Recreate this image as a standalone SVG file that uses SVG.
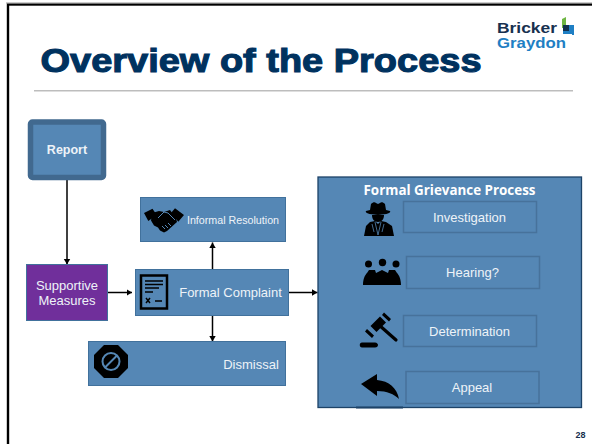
<svg xmlns="http://www.w3.org/2000/svg" width="592" height="444" viewBox="0 0 592 444">
<defs>
<marker id="arr" markerUnits="userSpaceOnUse" markerWidth="7" markerHeight="8" refX="5.500" refY="4" orient="auto"><path d="M0 0.800L5.500 4L0 7.200z" fill="#000"/></marker>
</defs>
<style>
.box{fill:#5587b5;stroke:#41719c;stroke-width:1}
.inner{fill:#5587b5;stroke:#47729b;stroke-width:1.5}
text{font-family:"Liberation Sans",Arial,sans-serif;fill:#eef3f8;text-anchor:middle}
.t{font-size:13px}
.c{stroke:#000;stroke-width:1.500;fill:none;marker-end:url(#arr)}
.icon{fill:#000}
</style>
<rect width="592" height="444" fill="#fff"/>
<rect x="8" y="4.500" width="600" height="460" fill="none" stroke="#000" stroke-width="2.400"/>
<rect x="6" y="2.500" width="586" height="1" fill="#999"/>
<text x="261" y="72" textLength="441" lengthAdjust="spacingAndGlyphs" style="font-weight:700;font-size:33px;fill:#00325f;stroke:#00325f;stroke-width:1.100px">Overview of the Process</text>
<rect x="34" y="90" width="539" height="1.500" fill="#bdbdbd"/>
<g id="logo">
<text x="497" y="33" textLength="60" lengthAdjust="spacingAndGlyphs" style="font-weight:700;font-size:15.500px;fill:#17304f;text-anchor:start">Bricker</text>
<text x="497" y="48" textLength="69" lengthAdjust="spacingAndGlyphs" style="font-weight:700;font-size:15.500px;fill:#1f7fc4;text-anchor:start">Graydon</text>
<path d="M562 19l4-2v8h6v3h-10z" fill="#6fb644"/>
<path d="M563 25h6v6h-6z" fill="#12304f"/>
<path d="M569 25h5v10l-2 0v-1h-9v-3h6z" fill="#1f7fc4"/>
</g>
<g id="connectors">
<path class="c" d="M67 177V264.500"/>
<path class="c" d="M108 292.500H132"/>
<path class="c" d="M212.500 269V242.500"/>
<path class="c" d="M212.500 316V341.500"/>
<path class="c" d="M289 292.500H317.500"/>
<path class="c" d="M470 233.500V255.500"/>
<path class="c" d="M472.500 292V314"/>
<path class="c" d="M470 350V372"/>
</g>
<g id="report"><rect x="30.500" y="122" width="73" height="55.500" rx="2" fill="#5587b5" stroke="#41698f" stroke-width="5.500"/><text x="67" y="154" style="font-weight:700;font-size:12.500px">Report</text></g>
<g id="informal"><rect class="box" x="140.500" y="197.500" width="145" height="44"/>
<path class="icon" d="M144 213l8.500-4.300 4.200 6.300-8.400 6zM175 208.300l9 6.700-5.700 6.700-7.300-8.700z"/>
<path class="icon" d="M152 213l7-2 5 1 6-2 6 8 1 4-10 9-3 1.500-4-2-2-3-4-2-3-5z"/>
<path d="M158 218l6-6 4 1 7 7M165 225l3 3M162 226l3 3M168 223l3 3" fill="none" stroke="#5587b5" stroke-width="1"/>
<text x="233" y="224" style="font-size:10.700px">Informal Resolution</text></g>
<g id="supportive"><rect x="26.500" y="264.500" width="81" height="56" fill="#702f9b" stroke="#41719c"/><text x="67" y="290" class="t">Supportive</text><text x="67" y="305" class="t">Measures</text></g>
<g id="complaint"><rect class="box" x="135.500" y="269.500" width="153" height="46"/><rect x="141" y="275.500" width="26" height="33" fill="#5587b5" stroke="#000" stroke-width="2.500"/><path d="M145 281h18M145 284.500h18M145 288h14M145 292h8M155 301h7" stroke="#000" stroke-width="1.300"/><path d="M146 298l4 5M150 298l-4 5" stroke="#000" stroke-width="1.500"/><text x="230.500" y="297" class="t">Formal Complaint</text></g>
<g id="dismissal"><rect class="box" x="88.500" y="341.500" width="197" height="44"/><path class="icon" d="M104 345h14l10 10v13l-10 10h-14l-10-10v-13z"/><circle cx="111" cy="361.500" r="8.500" fill="none" stroke="#5587b5" stroke-width="2"/><path d="M105 367.500l12-12" stroke="#5587b5" stroke-width="2"/><text x="251" y="369" class="t">Dismissal</text></g>
<g id="process"><rect x="318" y="177" width="263.500" height="230.500" fill="#5587b5" stroke="#1d4368" stroke-width="1.300"/><rect x="356" y="406.500" width="47" height="2" fill="#1d4368"/><text x="449.500" y="194.500" style="font-family:'Open Sans','Liberation Sans',sans-serif;font-weight:700;font-size:13.400px;fill:#fff">Formal Grievance Process</text></g>
<g id="investigation"><rect class="inner" x="403.500" y="201.500" width="133" height="31"/><text x="469.500" y="222" class="t">Investigation</text>
<path class="icon" d="M371 204c2-2 4-2 5-1l2 1 2-1c1-1 3-1 5 1l1 6 4 1c1 1-1 3-8 3.500-2 .5-6 .5-8 0-7-.500-9-2.500-8-3.500l4-1zM372 215h12c0 4-2 7-6 7s-6-3-6-7z"/>
<path class="icon" d="M370 222l5-1 3 3 3-3 5 1 6 4 2 10h-30l2-10z"/><path d="M375 222l3 13 3-13M372 224l2 8M384 224l-2 8" fill="none" stroke="#5587b5" stroke-width=".8"/></g>
<g id="hearing"><rect class="inner" x="406.500" y="256.500" width="133" height="32"/><text x="472.500" y="277" class="t">Hearing?</text>
<circle cx="368.500" cy="264" r="3.500" class="icon"/><circle cx="382.500" cy="262.500" r="3.700" class="icon"/><circle cx="396" cy="264" r="3.500" class="icon"/><path class="icon" d="M363 285c0-6 2-10 4-12l2-3 6 0 1 3 6-3 6 3 1-3 6 0 2 3c2 2 4 6 4 12z"/></g>
<g id="determination"><rect class="inner" x="403.500" y="315.500" width="133" height="31"/><text x="469.500" y="336" class="t">Determination</text>
<path d="M379 325l17 15" stroke="#000" stroke-width="3.200" stroke-linecap="round" fill="none"/>
<path d="M383 319.500l-9.500 9.500" stroke="#000" stroke-width="8.500" fill="none"/>
<path d="M384 312.500l7 6.500-2 2.500-7-6.500zM367 329l7 6.500-2 2.500-7-6.500z" fill="#000"/>
<path class="icon" d="M362 342.500h13c2 0 3 1.500 3 2.500s-1 2.500-3 2.500h-13c-3 0-3-5 0-5z"/></g>
<g id="appeal"><rect class="inner" x="406" y="371.500" width="133" height="32"/><text x="472" y="392" class="t">Appeal</text>
<path class="icon" d="M361 384l16-10v6c12 1 20 8 22 19-5-5-12-8-22-8v5z"/></g>
<text x="580.500" y="438" style="font-weight:700;font-size:9px;fill:#17304f">28</text>
</svg>
